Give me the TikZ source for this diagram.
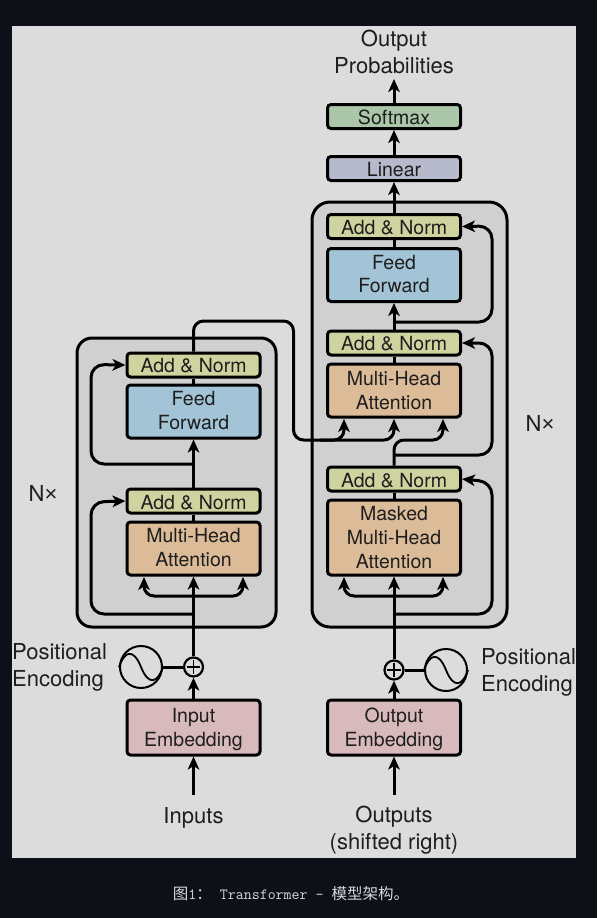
\documentclass[tikz,border=0pt]{standalone}
\usepackage{fontspec}
\usetikzlibrary{arrows.meta}
\setmainfont{TeX Gyre Heros}
\newfontfamily\cjkfont{Noto Sans CJK SC}
\newfontfamily\libfont{Liberation Sans}
\newcommand{\cjktext}[1]{{\cjkfont\fontsize{15.5}{18}\selectfont #1}}
\newcommand{\nudge}[2]{\raisebox{#1pt}[\height][\depth]{#2}}
\definecolor{pagebg}{HTML}{0D1117}
\definecolor{panelbg}{HTML}{DCDCDC}
\definecolor{groupbg}{HTML}{D0D0D0}
\definecolor{addcol}{HTML}{CFD3A0}
\definecolor{ffcol}{HTML}{A2C4D6}
\definecolor{mhacol}{HTML}{DCBC98}
\definecolor{embcol}{HTML}{D8B9BC}
\definecolor{softcol}{HTML}{ABC6A9}
\definecolor{lincol}{HTML}{B7BACC}
\definecolor{inkcol}{HTML}{1E1E1E}
\definecolor{capcol}{HTML}{D5D8DC}
\tikzset{
  x=1pt,y=-1pt,
  blockbox/.style={draw=black,line width=3pt,rounded corners=3.5pt,minimum width=133pt,align=center,
    inner sep=0pt,text=inkcol,font=\fontsize{19.5}{23.7}\selectfont},
  addbox/.style={blockbox,fill=addcol,minimum height=24pt},
  ffbox/.style={blockbox,fill=ffcol,minimum height=53pt},
  mhabox/.style={blockbox,fill=mhacol,minimum height=53pt},
  maskbox/.style={blockbox,fill=mhacol,minimum height=75pt},
  embbox/.style={blockbox,fill=embcol,minimum height=55pt},
  softbox/.style={blockbox,fill=softcol,minimum height=24pt},
  linbox/.style={blockbox,fill=lincol,minimum height=24pt},
  groupbox/.style={draw=black,line width=3pt,fill=groupbg},
  label/.style={text=inkcol,align=center,inner sep=0pt,font=\fontsize{22}{27}\selectfont},
  leftlabel/.style={label,align=left},
  wire/.style={draw=black,line width=3pt},
  arr/.style={wire,-{Stealth[length=13pt,width=11.5pt,inset=3.5pt]}},
  twoarr/.style={wire,{Stealth[length=13pt,width=11.5pt,inset=3.5pt]}-{Stealth[length=13pt,width=11.5pt,inset=3.5pt]}},
  round/.style={rounded corners=13pt},
  smallround/.style={rounded corners=10pt},
  posenc/.style={circle,draw=black,line width=2pt,minimum size=42pt,inner sep=0pt},
  plusnode/.style={circle,draw=black,line width=2.2pt,minimum size=19pt,inner sep=0pt},
}
\begin{document}
\begin{tikzpicture}
\useasboundingbox (0,0) rectangle (597,918);
\fill[pagebg] (0,0) rectangle (597,918);
\fill[panelbg] (12,26) rectangle (576,858);
% groups
\node[groupbox,rounded corners=15pt,minimum width=199pt,minimum height=289pt,inner sep=0pt] (encgroup) at (176.5,482.5) {};
\node[groupbox,rounded corners=18pt,minimum width=195pt,minimum height=425pt,inner sep=0pt] (decgroup) at (409.5,414.5) {};
% encoder
\node[addbox] (enc add2) at (193.5,365) {\nudge{-1}{Add \& Norm}};
\node[ffbox] (enc ff) at (193.5,411.5) {\nudge{1}{Feed}\\\nudge{1}{Forward}};
\node[addbox] (enc add1) at (193.5,501) {\nudge{-1.5}{Add \& Norm}};
\node[mhabox] (enc mha) at (193.5,548.5) {\nudge{1}{Multi-Head}\\\nudge{1}{Attention}};
\node[embbox] (enc emb) at (193.5,727.5) {\nudge{-2}{Input}\\\nudge{-2}{Embedding}};
% decoder
\node[softbox] (soft) at (394,116.5) {\nudge{-1}{Softmax}};
\node[linbox] (lin) at (394,168.5) {\nudge{-1}{Linear}};
\node[addbox] (dec add3) at (394,226.5) {\nudge{-1}{Add \& Norm}};
\node[ffbox] (dec ff) at (394,275) {\nudge{1}{Feed}\\\nudge{1}{Forward}};
\node[addbox] (dec add2) at (394,343) {\nudge{-1}{Add \& Norm}};
\node[mhabox] (dec mha) at (394,390.5) {Multi-Head\\Attention};
\node[addbox] (dec add1) at (394,479) {\nudge{-1.5}{Add \& Norm}};
\node[maskbox] (dec mask) at (394,537.5) {Masked\\Multi-Head\\Attention};
\node[embbox] (dec emb) at (394,727.5) {\nudge{-2}{Output}\\\nudge{-2}{Embedding}};
% labels
\node[label] (outprob) at (394,51.5) {Output\\Probabilities};
\node[label] (inputs) at (193.5,817.5) {Inputs};
\node[label] (outputs) at (394,830.5) {Outputs\\(shifted right)};
\node[leftlabel,anchor=west] (pos l) at (12,667.5) {Positional\\Encoding};
\node[leftlabel,anchor=west] (pos r) at (481,672) {Positional\\Encoding};
\node[label] (nx l) at (43,493) {N{\libfont ×}};
\node[label] (nx r) at (540,423) {N{\libfont ×}};
% positional encoding
\node[posenc] (sine l) at (141,667) {};
\node[plusnode] (plus l) at (193.5,667) {};
\node[posenc] (sine r) at (446,670) {};
\node[plusnode] (plus r) at (394,670) {};
\foreach \n in {sine l,sine r}{
  \draw[black,line width=1.8pt] (\n.west) .. controls +(5,-15) and +(-8,-20) .. (\n.center)
    .. controls +(8,20) and +(-5,15) .. (\n.east);
}
\foreach \n in {plus l,plus r}{
  \draw[black,line width=1.5pt] ([yshift=6.8pt]\n.center) -- ([yshift=-6.8pt]\n.center)
    ([xshift=-6.8pt]\n.center) -- ([xshift=6.8pt]\n.center);
}
\draw[wire] (sine l) -- (plus l);
\draw[wire] (plus r) -- (sine r);
% free ends
\coordinate (in start) at (193.5,795);
\coordinate (out start) at (394,795);
% encoder connectors
\draw[arr] (in start) -- (enc emb.south);
\draw[arr] (enc emb.north) -- (plus l.south);
\draw[arr] (plus l.north) -- (enc mha.south);
\draw[wire] (enc mha.north) -- (enc add1.south);
\draw[arr] (enc add1.north) -- (enc ff.south);
\draw[wire] (enc ff.north) -- (enc add2.south);
\coordinate (enc mha l) at (144,577);
\coordinate (enc mha r) at (243,577);
\draw[twoarr,smallround] (enc mha l) -- (144,596) -- (243,596) -- (enc mha r);
\coordinate (enc res1) at (193.5,614);
\coordinate (enc res2) at (193.5,464);
\draw[arr,round] (enc res1) -- (91,614) -- (91,502) -- (enc add1.west);
\draw[arr,round] (enc res2) -- (91,464) -- (91,364.5) -- (enc add2.west);
% encoder to decoder
\coordinate (dec mha l) at (344,419);
\coordinate (dec mha r) at (443,419);
\coordinate (dec mha c) at (394,419);
\coordinate (cross mid) at (320,440);
\draw[arr,smallround] (enc add2.north) -- (193.5,321) -- (293.5,321) -- (293.5,440) -- (394,440) -- (dec mha c);
\draw[arr,smallround] (cross mid) -- (344,440) -- (dec mha l);
% decoder connectors
\draw[arr] (out start) -- (dec emb.south);
\draw[arr] (dec emb.north) -- (plus r.south);
\draw[arr] (plus r.north) -- (dec mask.south);
\coordinate (dec mask l) at (344,577);
\coordinate (dec mask r) at (443,577);
\draw[twoarr,smallround] (dec mask l) -- (344,596) -- (443,596) -- (dec mask r);
\draw[wire] (dec mask.north) -- (dec add1.south);
\draw[arr,smallround] (dec add1.north) -- (394,440) -- (443,440) -- (dec mha r);
\draw[wire] (dec mha.north) -- (dec add2.south);
\draw[arr] (dec add2.north) -- (dec ff.south);
\draw[wire] (dec ff.north) -- (dec add3.south);
\draw[arr] (dec add3.north) -- (lin.south);
\draw[arr] (lin.north) -- (soft.south);
\draw[arr] (soft.north) -- (394,79);
\coordinate (dec res1) at (394,614);
\coordinate (dec res2) at (394,455);
\coordinate (dec res3) at (394,322);
\draw[arr,round] (dec res1) -- (492,614) -- (492,482) -- (dec add1.east);
\draw[arr,round] (dec res2) -- (492,455) -- (492,343) -- (dec add2.east);
\draw[arr,round] (dec res3) -- (492,322) -- (492,226) -- (dec add3.east);
% caption
\node[text=capcol,inner sep=0pt,font=\fontsize{15.5}{18}\selectfont] (caption) at (291,894)
  {\cjktext{图}{\ttfamily 1}\cjktext{：}{\ttfamily\ Transformer - }\cjktext{模型架构。}};
\end{tikzpicture}
\end{document}
